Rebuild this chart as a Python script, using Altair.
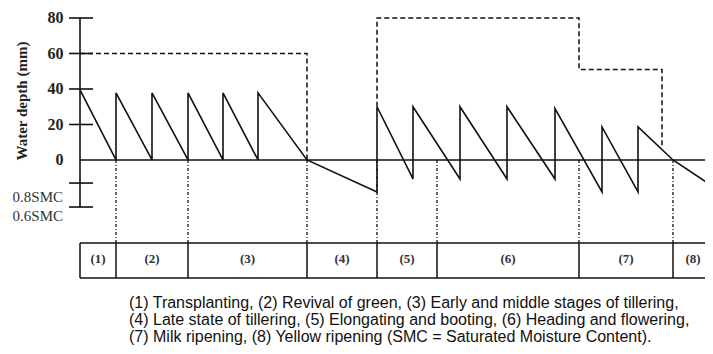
import altair as alt
import pandas as pd

# ---- data (t = time position, mm = water depth) ----
saw_t = [0, 36, 36, 72, 72, 108, 108, 143, 143, 178, 178, 227, 297, 297, 333, 333,
         380, 380, 427, 427, 475, 475, 522, 522, 558, 558, 593, 633]
saw_mm = [39.5, 0, 37.8, 0, 37.8, 0, 37.8, 0, 37.8, 0, 37.8, 0, -18, 30, -10.7, 30,
          -10.7, 30, -10.7, 30, -10.7, 29, -18, 18.6, -18, 18.6, 0, -15]

lim_seg = [1, 1, 1, 2, 2, 2, 2, 2, 2]
lim_t = [0, 227, 227, 297, 297, 499, 499, 582, 582]
lim_mm = [60, 60, 0, 30, 80, 80, 51, 51, 6.6]

stage_bounds = [0, 36, 108, 227, 297, 357, 499, 593, 640]
stage_labels = ["(1)", "(2)", "(3)", "(4)", "(5)", "(6)", "(7)", "(8)"]
divider_t = [36, 108, 227, 297, 357, 499, 593]

tick_values = [80, 60, 40, 20, 0]
extra_ticks = [80, 60, 40, 20, -13, -26.5]
smc_labels = ["0.8SMC", "0.6SMC"]
smc_mm = [-20.8, -31.5]

caption = [
    "(1) Transplanting, (2) Revival of green, (3) Early and middle stages of tillering,",
    "(4) Late state of tillering, (5) Elongating and booting, (6) Heading and flowering,",
    "(7) Milk ripening, (8) Yellow ripening (SMC = Saturated Moisture Content).",
]
caption_mm = [-80.8, -90.4, -100.0]

table_top, table_bot = -46.8, -66.5

# ---- scales ----
xs = alt.Scale(domain=[0, 625], nice=False, zero=False)
ys = alt.Scale(domain=[-104.8, 84.5], nice=False, zero=False)
yaxis = alt.Axis(values=tick_values, domain=False, ticks=False, tickSize=0, grid=False,
                 labelFont="Liberation Serif", labelFontSize=16, labelFontWeight="bold",
                 labelPadding=17, labelColor="#222", title=None)
X = lambda f="t": alt.X(f"{f}:Q", scale=xs, axis=None)
Y = lambda f="mm": alt.Y(f"{f}:Q", scale=ys, axis=yaxis)

saw_df = pd.DataFrame({"t": saw_t, "mm": saw_mm, "o": list(range(len(saw_t)))})
saw = alt.Chart(saw_df).mark_line(color="#111", strokeWidth=1.6, clip=False).encode(
    x=X(), y=Y(), order="o:Q")

lim_df = pd.DataFrame({"t": lim_t, "mm": lim_mm, "seg": lim_seg, "o": list(range(len(lim_t)))})
lim = alt.Chart(lim_df).mark_line(color="#111", strokeWidth=1.5, strokeDash=[5, 3]).encode(
    x=X(), y=Y(), detail="seg:N", order="o:Q")

zero_df = pd.DataFrame({"t": [0], "t2": [640], "mm": [0]})
zero = alt.Chart(zero_df).mark_rule(color="#111", strokeWidth=1.5, clip=False).encode(
    x=X(), x2="t2", y=Y())

axis_df = pd.DataFrame({"t": [0], "mm": [80], "mm2": [-26.5]})
axline = alt.Chart(axis_df).mark_rule(color="#111", strokeWidth=1.6).encode(
    x=X(), y=Y(), y2="mm2")

tk_df = pd.DataFrame({"t": [-11] * len(extra_ticks), "t2": [13] * len(extra_ticks), "mm": extra_ticks})
tks = alt.Chart(tk_df).mark_rule(color="#111", strokeWidth=1.6, clip=False).encode(
    x=X(), x2="t2", y=Y())

dd_df = pd.DataFrame({"t": divider_t, "mm": [0] * len(divider_t), "mm2": [table_top] * len(divider_t)})
dd = alt.Chart(dd_df).mark_rule(color="#111", strokeWidth=1.3, strokeDash=[3, 2, 1, 2]).encode(
    x=X(), y=Y(), y2="mm2")

tb_h = pd.DataFrame({"t": [0, 0], "t2": [640, 640], "mm": [table_top, table_bot]})
tbh = alt.Chart(tb_h).mark_rule(color="#111", strokeWidth=1.5, clip=False).encode(
    x=X(), x2="t2", y=Y())
tb_v = pd.DataFrame({"t": stage_bounds[:-1], "mm": [table_top] * 8, "mm2": [table_bot] * 8})
tbv = alt.Chart(tb_v).mark_rule(color="#111", strokeWidth=1.5).encode(
    x=X(), y=Y(), y2="mm2")

lab_df = pd.DataFrame({
    "t": [(stage_bounds[i] + min(stage_bounds[i + 1], 633)) / 2 for i in range(8)],
    "mm": [-56.0] * 8, "lab": stage_labels})
labs = alt.Chart(lab_df).mark_text(font="Liberation Serif", fontSize=13, fontWeight="bold",
                                   color="#333", clip=False).encode(
    x=X(), y=Y(), text="lab:N")

title_df = pd.DataFrame({"t": [-58], "mm": [33.2], "lab": ["Water depth (mm)"]})
ttl = alt.Chart(title_df).mark_text(font="Liberation Serif", fontSize=15, fontWeight="bold",
                                    angle=270, color="#222", clip=False).encode(
    x=X(), y=Y(), text="lab:N")

smc_df = pd.DataFrame({"t": [-17, -17], "mm": smc_mm, "lab": smc_labels})
smc = alt.Chart(smc_df).mark_text(font="Liberation Serif", fontSize=15, align="right",
                                  color="#333", clip=False).encode(x=X(), y=Y(), text="lab:N")

cap_df = pd.DataFrame({"t": [49] * 3, "mm": caption_mm, "lab": caption})
cap = alt.Chart(cap_df).mark_text(font="Liberation Sans", fontSize=16, align="left",
                                  color="#111", clip=False).encode(x=X(), y=Y(), text="lab:N")

chart = alt.layer(lim, saw, zero, axline, tks, dd, tbh, tbv, labs, ttl, smc, cap).properties(
    width=625, height=336,
    autosize=alt.AutoSizeParams(type="none"),
    padding={"left": 72, "top": 2, "right": 0, "bottom": 0},
).configure_view(stroke=None)

chart.save("out.html", embed_options={"renderer": "svg", "actions": False})
